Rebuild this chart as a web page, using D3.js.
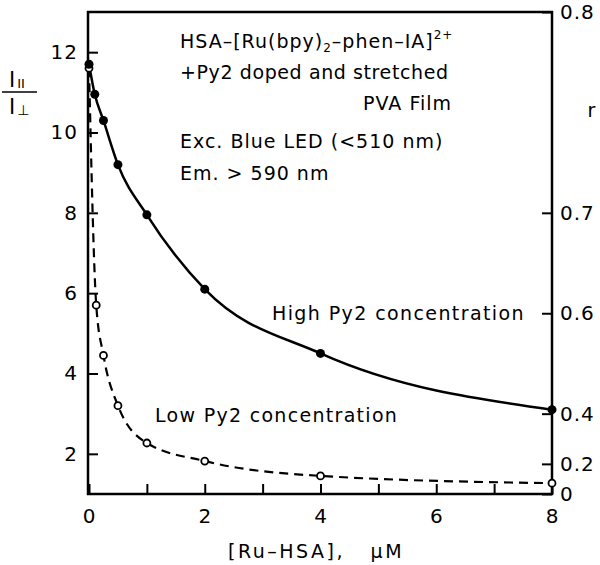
<!DOCTYPE html>
<html>
<head>
<meta charset="utf-8">
<script src="https://cdn.jsdelivr.net/npm/d3@7"></script>
<style>
  body { margin: 0; background: #fff; }
  text { font-family: "DejaVu Sans", sans-serif; fill: #000; }
</style>
</head>
<body>
<div id="chart"></div>
<script>
// concentrations, uM
var conc = [0, 0.1, 0.25, 0.5, 1, 2, 4, 8];
var highPy2 = [11.7, 10.95, 10.3, 9.2, 7.95, 6.1, 4.5, 3.1];
var lowConc = [0, 0.125, 0.25, 0.5, 1, 2, 4, 8];
var lowPy2 = [11.6, 5.7, 4.45, 3.2, 2.27, 1.82, 1.45, 1.27];

var xTicks = [0, 1, 2, 3, 4, 5, 6, 7, 8];
var yTicks = [2, 4, 6, 8, 10, 12];
var rTicks = [0, 0.2, 0.4, 0.6, 0.7, 0.8];

var width = 600, height = 565;
var plotL = 88, plotR = 552, plotT = 12, plotB = 494;

var svg = d3.select("#chart")
    .append("svg")
    .attr("width", width)
    .attr("height", height);

var x = d3.scaleLinear().domain([0, 8]).range([plotL + 1, plotR]);
var y = d3.scaleLinear().domain([1, 13]).range([plotB, plotT]);

// r = (R-1)/(R+2)  ->  R = (1+2r)/(1-r)
function rToRatio(r) { return (1 + 2 * r) / (1 - r); }

// frame
svg.append("rect")
    .attr("x", plotL).attr("y", plotT)
    .attr("width", plotR - plotL).attr("height", plotB - plotT)
    .attr("fill", "none")
    .attr("stroke", "#000")
    .attr("stroke-width", 2.5);

// axes
var xAxis = svg.append("g")
    .attr("transform", "translate(0," + plotB + ")")
    .call(d3.axisBottom(x)
        .tickValues(xTicks)
        .tickSize(-10)
        .tickPadding(12)
        .tickFormat(function(d) { return d % 2 === 0 ? d : ""; }));

var yAxis = svg.append("g")
    .attr("transform", "translate(" + plotL + ",0)")
    .call(d3.axisLeft(y)
        .tickValues(yTicks)
        .tickSize(-10)
        .tickPadding(10));

var rAxis = svg.append("g")
    .attr("transform", "translate(" + plotR + ",0)")
    .call(d3.axisRight(y)
        .tickValues(rTicks.map(rToRatio))
        .tickSize(-10)
        .tickPadding(8)
        .tickFormat(function(d, i) { return rTicks[i] === 0 ? "0" : rTicks[i].toFixed(1); }));

[xAxis, yAxis, rAxis].forEach(function(g) {
    g.select(".domain").remove();
    g.selectAll("line").attr("stroke-width", 2);
    g.selectAll("text")
        .style("font-family", "DejaVu Sans, sans-serif")
        .style("font-size", "20px")
        .style("letter-spacing", "1px");
});
xAxis.selectAll("text").attr("dy", "0.85em");

// curves
var line = d3.line()
    .x(function(d) { return x(d[0]); })
    .y(function(d) { return y(d[1]); })
    .curve(d3.curveMonotoneX);

var lowPts = lowConc.map(function(c, i) { return [c, lowPy2[i]]; });
var highPts = conc.map(function(c, i) { return [c, highPy2[i]]; });

svg.append("path")
    .attr("d", line(lowPts))
    .attr("fill", "none")
    .attr("stroke", "#000")
    .attr("stroke-width", 2.2)
    .attr("stroke-dasharray", "9,6");

svg.append("path")
    .attr("d", line(highPts))
    .attr("fill", "none")
    .attr("stroke", "#000")
    .attr("stroke-width", 2.5);

svg.append("g")
    .selectAll("circle")
    .data(lowPts)
    .enter()
    .append("circle")
    .attr("cx", function(d) { return x(d[0]); })
    .attr("cy", function(d) { return y(d[1]); })
    .attr("r", 3.5)
    .attr("fill", "#fff")
    .attr("stroke", "#000")
    .attr("stroke-width", 1.8);

svg.append("g")
    .selectAll("circle")
    .data(highPts)
    .enter()
    .append("circle")
    .attr("cx", function(d) { return x(d[0]); })
    .attr("cy", function(d) { return y(d[1]); })
    .attr("r", 4.5)
    .attr("fill", "#000");

// annotations
var fs = "19px", ls = "1px";
function label(xp, yp, s, anchor, spacing) {
    return svg.append("text")
        .attr("x", xp).attr("y", yp)
        .attr("text-anchor", anchor || "start")
        .style("font-size", fs)
        .style("letter-spacing", spacing || ls)
        .style("white-space", "pre")
        .text(s);
}

var t1 = svg.append("text").attr("x", 180).attr("y", 48)
    .style("font-size", fs).style("letter-spacing", ls);
t1.append("tspan").text("HSA–[Ru(bpy)");
t1.append("tspan").text("2").style("font-size", "12px").attr("dy", 4);
t1.append("tspan").text("–phen–IA]").attr("dy", -4);
t1.append("tspan").text("2+").style("font-size", "12px").attr("dy", -9);

label(180, 79, "+Py2 doped and stretched", "start", "0.6px");
label(452, 110, "PVA Film", "end");
label(180, 148, "Exc. Blue LED (<510 nm)");
label(180, 180, "Em. > 590 nm");
label(272, 320, "High Py2 concentration", "start", "1.4px");
label(155, 422, "Low Py2 concentration", "start", "1.3px");

// axis titles
label(316, 558, "[Ru–HSA],   μM", "middle", "2.5px");
label(592, 117, "r", "middle");

var yl = svg.append("text").attr("x", 9).attr("y", 87).style("font-size", "21px");
yl.append("tspan").text("I");
yl.append("tspan").text("II").style("font-size", "13px").attr("dx", 2).attr("dy", 1);
svg.append("line")
    .attr("x1", 2).attr("x2", 37).attr("y1", 92).attr("y2", 92)
    .attr("stroke", "#000").attr("stroke-width", 1.5);
var yl2 = svg.append("text").attr("x", 9).attr("y", 114).style("font-size", "21px");
yl2.append("tspan").text("I");
yl2.append("tspan").text("⊥").style("font-size", "14px").attr("dx", 2).attr("dy", 1);
</script>
</body>
</html>
